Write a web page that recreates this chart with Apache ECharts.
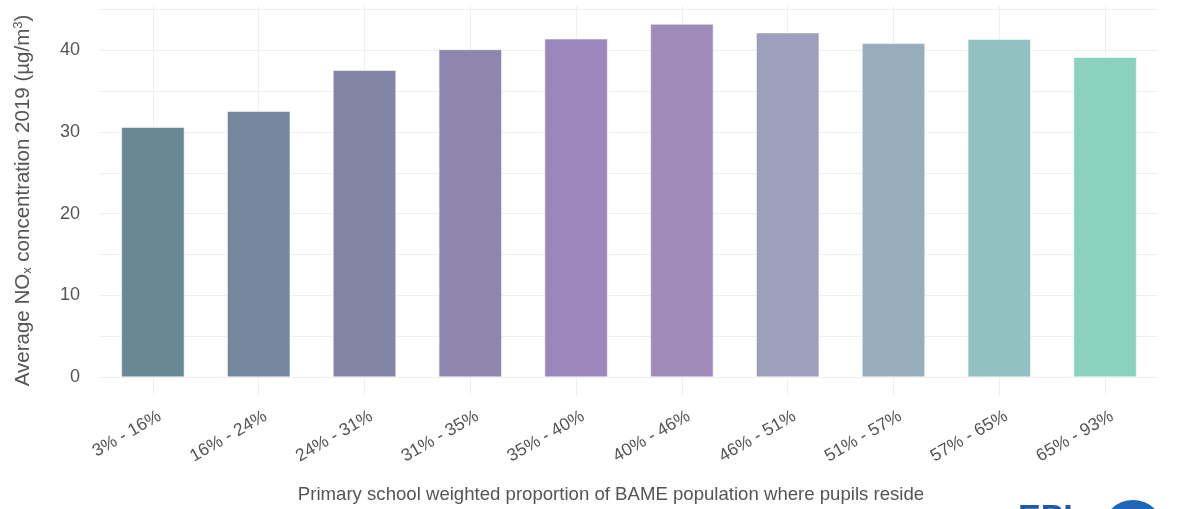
<!DOCTYPE html>
<html>
<head>
<meta charset="utf-8">
<script src="https://cdn.jsdelivr.net/npm/echarts@6/dist/echarts.min.js"></script>
<style>
  html, body { margin: 0; padding: 0; background: #fff; }
  #chart { width: 1187px; height: 509px; }
</style>
</head>
<body>
<div id="chart"></div>
<script>
// BAME proportion bands (x axis)
const bands = ['3% - 16%', '16% - 24%', '24% - 31%', '31% - 35%', '35% - 40%',
  '40% - 46%', '46% - 51%', '51% - 57%', '57% - 65%', '65% - 93%'];
// mean NOx 2019
const noxValues = [30.6, 32.55, 37.55, 40.1, 41.4, 43.2, 42.15, 40.85, 41.35, 39.15];
// y tick labels and grid values
const yLabels = [0, 10, 20, 30, 40];
const yGrid = [0, 5, 10, 15, 20, 25, 30, 35, 40, 45];
// bar fill colours, one per band
const barColors = ['#688896', '#76879d', '#8385a6', '#8f86ae', '#9b87ba',
  '#a08cbb', '#9ca0bd', '#98aebc', '#92c1c1', '#8ad2bd'];

const textGrey = '#555555';
const gridGrey = '#efefef';

const chart = echarts.init(document.getElementById('chart'), null, { renderer: 'canvas' });

const gridMarks = yGrid.map(v => ({ yAxis: v }))
  .concat(bands.map(b => ({ xAxis: b })));

chart.setOption({
  animation: false,
  textStyle: { fontFamily: 'Liberation Sans, Arial, sans-serif' },
  grid: { left: 100, right: 29, top: 6, bottom: 113, containLabel: false },
  xAxis: {
    type: 'category',
    data: bands,
    axisLine: { show: false },
    axisTick: { show: false },
    splitLine: { show: false },
    axisLabel: {
      rotate: 30,
      color: textGrey,
      fontSize: 17.5,
      margin: 24,
      padding: [0, -8, 0, 0],
      interval: 0
    },
    name: 'Primary school weighted proportion of BAME population where pupils reside',
    nameLocation: 'middle',
    nameGap: 90,
    nameTextStyle: { color: textGrey, fontSize: 18.6, padding: [0, 36, 0, 0] }
  },
  yAxis: {
    type: 'value',
    min: -2.16,
    max: 45.38,
    axisLine: { show: false },
    axisTick: { show: false },
    splitLine: { show: false },
    axisLabel: {
      customValues: yLabels,
      color: textGrey,
      fontSize: 18,
      margin: 20
    },
    name: 'Average NO{sub|x} concentration 2019 (µg/m{sup|3})',
    nameLocation: 'middle',
    nameGap: 66,
    nameTextStyle: {
      color: textGrey,
      fontSize: 20.5,
      rich: {
        sub: { fontSize: 13, color: textGrey, verticalAlign: 'bottom', padding: [9, 0, 0, 0] },
        sup: { fontSize: 13, color: textGrey, verticalAlign: 'top', padding: [0, 0, 9, 0] }
      }
    }
  },
  series: [
    {
      type: 'line',
      data: [],
      z: 0,
      silent: true,
      markLine: {
        silent: true,
        z: 0,
        symbol: 'none',
        label: { show: false },
        lineStyle: { color: gridGrey, width: 1, type: 'solid' },
        data: gridMarks
      }
    },
    {
      type: 'bar',
      z: 2,
      barWidth: '60%',
      data: noxValues.map((v, i) => ({
        value: v,
        itemStyle: { color: barColors[i], borderColor: 'rgba(255,255,255,0.5)', borderWidth: 1 }
      }))
    }
  ],
  graphic: [
    {
      type: 'text',
      left: 1018,
      top: 502,
      style: { text: 'EPI', fill: '#1f5aa6', font: 'bold 34px Liberation Sans, Arial, sans-serif' }
    },
    {
      type: 'circle',
      shape: { cx: 1133, cy: 531, r: 31 },
      style: { fill: '#1f66b8' }
    }
  ]
});
</script>
</body>
</html>
